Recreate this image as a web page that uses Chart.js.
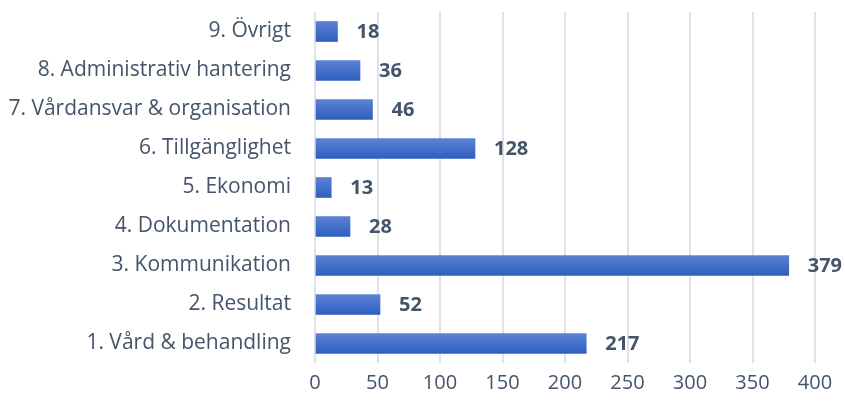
<!DOCTYPE html>
<html>
<head>
<meta charset="utf-8">
<script src="https://cdn.jsdelivr.net/npm/chart.js@4.4.1/dist/chart.umd.min.js"></script>
<style>
  html, body { margin: 0; padding: 0; background: #ffffff; }
  #wrap { width: 845px; height: 406px; position: relative; }
</style>
</head>
<body>
<div id="wrap"><canvas id="c"></canvas></div>
<script>
const categories = [
  "9. Övrigt",
  "8. Administrativ hantering",
  "7. Vårdansvar & organisation",
  "6. Tillgänglighet",
  "5. Ekonomi",
  "4. Dokumentation",
  "3. Kommunikation",
  "2. Resultat",
  "1. Vård & behandling"
];
const counts = [18, 36, 46, 128, 13, 28, 379, 52, 217];
const xTicks = [0, 50, 100, 150, 200, 250, 300, 350, 400];

const TEXT = "#44546A";
const FONT = "'Open Sans', Lato, sans-serif";

function barGradient(ctx) {
  const chart = ctx.chart;
  const y = chart.scales && chart.scales.y;
  if (!chart.chartArea || !y || ctx.dataIndex === undefined) return "#4472C4";
  const c = y.getPixelForValue(ctx.dataIndex);
  const g = chart.ctx.createLinearGradient(0, c - 10, 0, c + 10);
  g.addColorStop(0, "#5c82d3");
  g.addColorStop(1, "#2e5fbf");
  return g;
}

const valueLabels = {
  id: "valueLabels",
  afterDatasetsDraw(chart) {
    const ctx = chart.ctx;
    const meta = chart.getDatasetMeta(0);
    ctx.save();
    ctx.font = "bold 20px " + FONT;
    ctx.fillStyle = TEXT;
    ctx.textAlign = "left";
    ctx.textBaseline = "middle";
    meta.data.forEach((bar, i) => {
      ctx.fillText(String(counts[i]), bar.x + 19, bar.y + 1);
    });
    ctx.restore();
  }
};

new Chart(document.getElementById("c"), {
  type: "bar",
  data: {
    labels: categories,
    datasets: [{
      data: counts,
      backgroundColor: barGradient,
      borderWidth: 0,
      barThickness: 20
    }]
  },
  options: {
    indexAxis: "y",
    responsive: true,
    maintainAspectRatio: false,
    animation: false,
    layout: { padding: { left: 0, right: 30, top: 12, bottom: 3 } },
    plugins: { legend: { display: false }, tooltip: { enabled: false } },
    scales: {
      x: {
        min: 0, max: 400,
        afterBuildTicks(scale) { scale.ticks = xTicks.map(v => ({ value: v })); },
        afterFit(scale) { scale.paddingLeft = 0; scale.paddingRight = 0; },
        grid: { color: "#dfe2e8", lineWidth: 2, drawTicks: false },
        border: { display: false },
        ticks: { color: TEXT, font: { family: FONT, size: 20 }, padding: 8 }
      },
      y: {
        afterFit(scale) { scale.width = 315; scale.paddingTop = 0; scale.paddingBottom = 0; },
        grid: { display: false, drawTicks: false },
        border: { display: false },
        ticks: { color: TEXT, font: { family: FONT, size: 21 }, padding: 24 }
      }
    }
  },
  plugins: [valueLabels]
});
</script>
</body>
</html>
